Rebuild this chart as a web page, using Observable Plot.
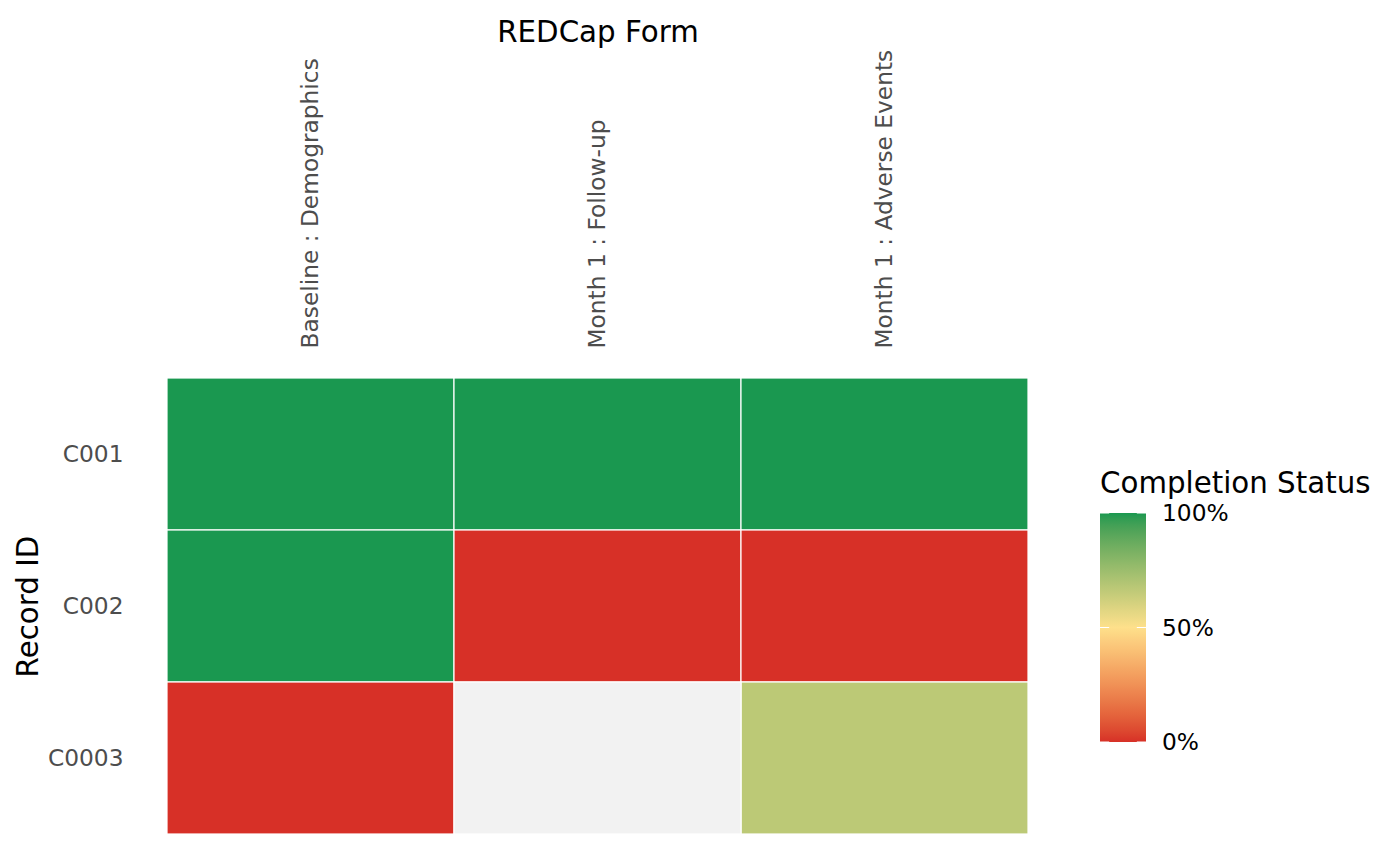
<!DOCTYPE html>
<html>
<head>
<meta charset="utf-8">
<script src="https://cdn.jsdelivr.net/npm/d3@7"></script>
<script src="https://cdn.jsdelivr.net/npm/@observablehq/plot@0.6"></script>
<style>
  html, body { margin: 0; padding: 0; background: #fff; }
  #chart { width: 1400px; height: 865px; }
</style>
</head>
<body>
<div id="chart"></div>
<script>
// ---- data ----
const records = ["C001", "C002", "C0003"];
const forms = ["Baseline : Demographics", "Month 1 : Follow-up", "Month 1 : Adverse Events"];
const completionC001 = [100, 100, 100];
const completionC002 = [100, 0, 0];
const completionC0003 = [0, null, 67];
const legendTicks = [0, 50, 100];
const legendTickLabels = ["0%", "50%", "100%"];
const xTitle = "REDCap Form";
const yTitle = "Record ID";
const legendTitle = "Completion Status";
const colorStops = ["#D73027", "#FEE08B", "#1A9850"];

const series = [completionC001, completionC002, completionC0003];
const table = [];
records.forEach((r, i) => forms.forEach((f, j) => table.push({record: r, form: f, value: series[i][j]})));
const present = table.filter(d => d.value != null);
const missing = table.filter(d => d.value == null);

const FONT = "DejaVu Sans, Liberation Sans, sans-serif";
const TICK_FS = 23.3;
const TITLE_FS = 29.3;

const chart = Plot.plot({
  width: 1400,
  height: 865,
  marginLeft: 167,
  marginRight: 372,
  marginTop: 378,
  marginBottom: 31,
  style: {fontFamily: FONT, background: "white"},
  x: {type: "band", domain: forms, padding: 0, axis: null},
  y: {type: "band", domain: records, padding: 0, axis: null},
  color: {type: "linear", domain: legendTicks, range: colorStops, interpolate: "lab"},
  marks: [
    Plot.cell(present, {x: "form", y: "record", fill: "value", stroke: "white", strokeWidth: 1.2, inset: 0}),
    Plot.cell(missing, {x: "form", y: "record", fill: "#F2F2F2", stroke: "white", strokeWidth: 1.2, inset: 0}),
    Plot.axisX({anchor: "top", tickSize: 0, tickPadding: 30, tickRotate: -90, fontSize: TICK_FS, fill: "#4D4D4D", label: null}),
    Plot.axisY({anchor: "left", tickSize: 0, tickPadding: 44, fontSize: TICK_FS, fill: "#4D4D4D", label: null}),
    Plot.text([xTitle], {frameAnchor: "top", textAnchor: "middle", lineAnchor: "middle", dy: -346, fontSize: TITLE_FS, fill: "black"}),
    Plot.text([yTitle], {frameAnchor: "left", textAnchor: "middle", lineAnchor: "middle", dx: -139, rotate: -90, fontSize: TITLE_FS, fill: "black"})
  ]
});

// ---- vertical colour-bar legend (ggplot style) ----
const color = chart.scale("color");
const scaleFn = Plot.scale({color: color});
const svg = d3.select(chart);
const barX = 1100, barY = 513, barW = 46, barH = 229;
const ly = d3.scaleLinear().domain([legendTicks[0], legendTicks[legendTicks.length - 1]]).range([barY + barH, barY]);
const defs = svg.append("defs");
const grad = defs.append("linearGradient").attr("id", "cbar").attr("x1", 0).attr("y1", 1).attr("x2", 0).attr("y2", 0);
const nStops = 40;
for (let k = 0; k <= nStops; k++) {
  const v = legendTicks[0] + (legendTicks[legendTicks.length - 1] - legendTicks[0]) * k / nStops;
  grad.append("stop").attr("offset", k / nStops).attr("stop-color", scaleFn.apply(v));
}
const lg = svg.append("g").attr("font-family", FONT).attr("text-anchor", "start");
lg.append("text").attr("x", barX).attr("y", 493).attr("font-size", TITLE_FS).attr("fill", "black").attr("text-anchor", "start").text(legendTitle);
lg.append("rect").attr("x", barX).attr("y", barY).attr("width", barW).attr("height", barH).attr("fill", "url(#cbar)");
legendTicks.forEach((t, i) => {
  const yy = ly(t);
  lg.append("line").attr("x1", barX).attr("x2", barX + barW / 5).attr("y1", yy).attr("y2", yy).attr("stroke", "white").attr("stroke-width", 1);
  lg.append("line").attr("x1", barX + barW - barW / 5).attr("x2", barX + barW).attr("y1", yy).attr("y2", yy).attr("stroke", "white").attr("stroke-width", 1);
  lg.append("text").attr("x", barX + barW + 16).attr("y", yy).attr("dy", "0.35em").attr("font-size", TICK_FS).attr("fill", "black").attr("text-anchor", "start").text(legendTickLabels[i]);
});

document.getElementById("chart").appendChild(chart);
</script>
</body>
</html>
